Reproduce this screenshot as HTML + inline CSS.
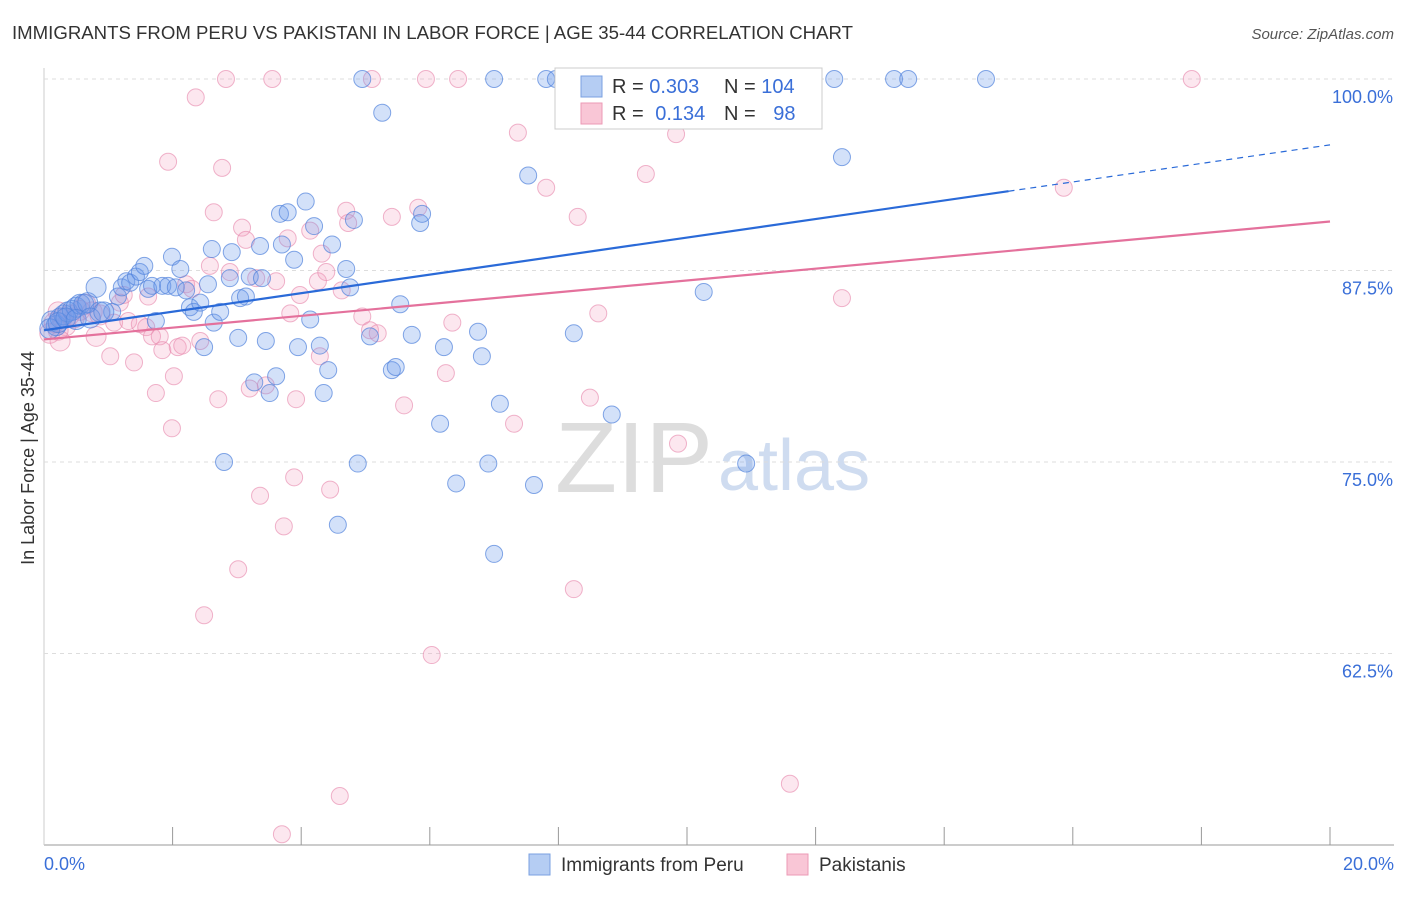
<!DOCTYPE html>
<html><head><meta charset="utf-8">
<style>
body{margin:0;background:#fff;font-family:"Liberation Sans",sans-serif;}
svg text{font-family:"Liberation Sans",sans-serif;}
</style></head>
<body>
<svg id="chart" width="1406" height="892">
<text x="12" y="39" font-size="18" fill="#333" textLength="841" lengthAdjust="spacingAndGlyphs">IMMIGRANTS FROM PERU VS PAKISTANI IN LABOR FORCE | AGE 35-44 CORRELATION CHART</text>
<text x="1394" y="39" font-size="15" fill="#555" text-anchor="end" font-style="italic">Source: ZipAtlas.com</text>
<text x="34" y="458" font-size="18" fill="#333" text-anchor="middle" transform="rotate(-90 34 458)">In Labor Force | Age 35-44</text>
<text x="555" y="492" font-size="100" fill="#ddd" font-family="Liberation Serif" textLength="158" lengthAdjust="spacingAndGlyphs">ZIP</text>
<text x="718" y="490" font-size="72" fill="#cfdcf0">atlas</text>
<g id="grid"></g>
<g id="pts"></g>
<g id="lines"></g>
<g>
<rect x="555" y="68" width="267" height="61" fill="#fff" stroke="#ccc"/>
<rect x="581" y="76" width="21" height="21" fill="#b5cdf3" stroke="#7aa0e0"/>
<rect x="581" y="103" width="21" height="21" fill="#f9c6d6" stroke="#ec9ab6"/>
<text x="612" y="93" font-size="20" fill="#333">R = <tspan fill="#3a6fd8">0.303</tspan></text>
<text x="724" y="93" font-size="20" fill="#333">N = <tspan fill="#3a6fd8">104</tspan></text>
<text x="612" y="120" font-size="20" fill="#333">R = <tspan fill="#3a6fd8" dx="6">0.134</tspan></text>
<text x="724" y="120" font-size="20" fill="#333">N = <tspan fill="#3a6fd8" dx="12">98</tspan></text>
</g>
<g>
<rect x="529" y="854" width="21" height="21" fill="#b5cdf3" stroke="#7aa0e0"/>
<text x="561" y="871" font-size="19" fill="#333">Immigrants from Peru</text>
<rect x="787" y="854" width="21" height="21" fill="#f9c6d6" stroke="#ec9ab6"/>
<text x="819" y="871" font-size="19" fill="#333">Pakistanis</text>
</g>
</svg>
<script>
const xTicks=[0,2,4,6,8,10,12,14,16,18,20];
const yTicks=[62.5,75,87.5,100];
const yTickLabels=["62.5%","75.0%","87.5%","100.0%"];
const xEndLabels=["0.0%","20.0%"];
const peruX=[0.12,0.19,0.25,0.31,0.37,0.44,0.50,0.56,0.62,0.68,0.81,0.87,1.06,1.15,1.21,1.28,1.34,1.43,1.49,1.56,1.62,1.68,1.74,1.84,1.93,1.99,2.05,2.12,2.21,2.27,2.33,2.43,2.49,2.55,2.61,2.64,2.74,2.80,2.89,2.92,3.02,3.05,3.14,3.20,3.27,3.36,3.39,3.45,3.51,3.61,3.67,3.70,3.79,3.89,3.95,4.07,4.14,4.20,4.29,4.35,4.42,4.48,4.57,4.70,4.76,4.82,4.88,4.95,5.07,5.26,5.41,5.47,5.54,5.72,5.85,5.88,6.16,6.22,6.41,6.75,6.81,6.91,7.00,7.00,7.09,7.53,7.62,7.81,7.96,8.24,8.83,10.26,10.92,12.29,12.41,13.22,13.44,14.65,0.09,0.22,0.34,0.50,0.72,0.93];
const peruY=[84.2,83.9,84.4,84.6,84.8,84.9,85.1,85.3,85.3,85.4,86.4,84.8,84.8,85.8,86.4,86.8,86.7,87.1,87.4,87.8,86.3,86.5,84.2,86.5,86.5,88.4,86.4,87.6,86.2,85.1,84.8,85.4,82.5,86.6,88.9,84.1,84.8,75.0,87.0,88.7,83.1,85.7,85.8,87.1,80.2,89.1,87.0,82.9,79.5,80.6,91.2,89.2,91.3,88.2,82.5,92.0,84.3,90.4,82.6,79.5,81.0,89.2,70.9,87.6,86.4,90.8,74.9,100,83.2,97.8,81.0,81.2,85.3,83.3,90.6,91.2,77.5,82.5,73.6,83.5,81.9,74.9,100,69.0,78.8,93.7,73.5,100,100,83.4,78.1,86.1,74.9,100,94.9,100,100,100,83.7,84.1,84.4,84.3,84.4,84.8];
const pakX=[0.09,0.16,0.22,0.28,0.34,0.40,0.47,0.56,0.65,0.75,0.81,0.87,1.03,1.09,1.18,1.24,1.31,1.40,1.49,1.59,1.62,1.68,1.74,1.80,1.84,1.93,1.99,2.02,2.08,2.15,2.21,2.30,2.36,2.43,2.49,2.58,2.64,2.71,2.77,2.83,2.89,3.02,3.08,3.14,3.20,3.30,3.36,3.45,3.55,3.61,3.73,3.79,3.83,3.89,3.92,3.98,4.14,4.26,4.29,4.32,4.39,4.45,4.60,4.63,4.70,4.73,4.95,5.07,5.10,5.19,5.41,5.60,5.82,5.94,6.03,6.25,6.35,6.44,7.31,7.37,7.81,8.18,8.24,8.30,8.49,8.62,9.36,9.83,9.86,11.60,12.41,15.86,17.85,3.70,0.22,0.25];
const pakY=[83.4,84.1,84.8,84.4,83.9,84.6,84.4,84.9,85.3,84.8,83.2,84.6,81.9,84.1,85.4,85.9,84.2,81.5,84.0,83.8,85.8,83.2,79.5,83.2,82.3,94.6,77.2,80.6,82.5,82.6,86.6,86.3,98.8,82.9,65.0,87.8,91.3,79.1,94.2,100,87.4,68.0,90.3,89.5,79.8,87.0,72.8,80.0,100,86.8,70.8,89.6,84.7,74.0,79.1,85.9,90.1,86.8,81.9,88.6,87.4,73.2,53.2,86.2,91.4,90.6,84.5,83.6,100,83.4,91.0,78.7,91.6,100,62.4,80.8,84.1,100,77.5,96.5,92.9,100,66.7,91.0,79.2,84.7,93.8,96.4,76.2,54.0,85.7,92.9,100,50.7,83.6,82.9];
const peruTrend=[83.6,95.7];
const pakTrend=[83.0,90.7];
const peruSolidEnd=15.0;

const NS="http://www.w3.org/2000/svg";
const X0=44,X1=1330,Ybot=845,Y100=79;
const sx=v=>X0+(v/20)*(X1-X0);
const sy=v=>Y100+(100-v)*(Ybot-Y100)/50;
function mk(tag,attrs,parent){const e=document.createElementNS(NS,tag);for(const k in attrs)e.setAttribute(k,attrs[k]);parent.appendChild(e);return e;}
const grid=document.getElementById('grid');
const ax=mk('line',{x1:X0,y1:Ybot,x2:1394,y2:Ybot,stroke:'#999'},grid);


const ay=mk('line',{x1:X0,y1:68,x2:X0,y2:Ybot,stroke:'#ccc'},grid);


xTicks.forEach(t=>{const l=mk('line',{x1:sx(t),y1:Ybot,x2:sx(t),y2:Ybot+(t==0?0:-18),stroke:'#999'},grid);

});
yTicks.forEach((t,i)=>{const l=mk('line',{x1:X0,y1:sy(t),x2:1394,y2:sy(t),stroke:'#ddd','stroke-dasharray':'4 4'},grid);


const tx=mk('text',{x:1393,y:sy(t)+24,'font-size':18,fill:'#3a6fd8','text-anchor':'end'},grid);tx.textContent=yTickLabels[i];

});
[[0,'start',X0],[1,'end',1394]].forEach(([i,a,x])=>{const tx=mk('text',{x:x,y:870,'font-size':18,fill:'#3a6fd8','text-anchor':a},grid);tx.textContent=xEndLabels[i];

});
const pts=document.getElementById('pts');
function dots(X,Y,fill,stroke,name){X.forEach((x,i)=>{const near=x<1;const c=mk('circle',{cx:sx(x),cy:sy(Y[i]),r:near?10:8.5,fill:fill,stroke:stroke,'stroke-width':1},pts);

});}
dots(pakX,pakY,'rgba(244,160,190,0.25)','rgba(232,140,175,0.65)','pakistani-point');
dots(peruX,peruY,'rgba(110,155,235,0.3)','rgba(80,130,220,0.7)','peru-point');
const lines=document.getElementById('lines');
const py=x=>peruTrend[0]+(peruTrend[1]-peruTrend[0])*x/20;
const l1=mk('line',{x1:sx(0),y1:sy(py(0)),x2:sx(peruSolidEnd),y2:sy(py(peruSolidEnd)),stroke:'#2a6ad8','stroke-width':2.2},lines);


const l2=mk('line',{x1:sx(peruSolidEnd),y1:sy(py(peruSolidEnd)),x2:sx(20),y2:sy(py(20)),stroke:'#2a6ad8','stroke-width':1.2,'stroke-dasharray':'6 5'},lines);


const l3=mk('line',{x1:sx(0),y1:sy(pakTrend[0]),x2:sx(20),y2:sy(pakTrend[1]),stroke:'#e4719c','stroke-width':2.2},lines);


</script>
</body></html>
